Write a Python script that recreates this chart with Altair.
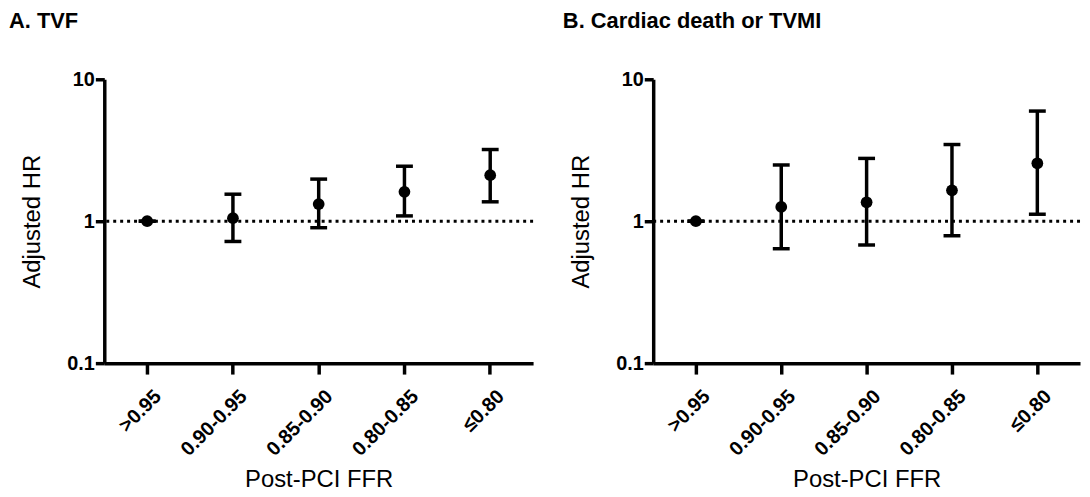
import altair as alt
import pandas as pd

categories = [">0.95", "0.90-0.95", "0.85-0.90", "0.80-0.85", "≤0.80"]

tvf_hr = [1.0, 1.05, 1.32, 1.61, 2.11]
tvf_lo = [1.0, 0.72, 0.90, 1.09, 1.37]
tvf_hi = [1.0, 1.55, 1.98, 2.44, 3.20]

cd_hr = [1.0, 1.26, 1.36, 1.65, 2.56]
cd_lo = [1.0, 0.64, 0.68, 0.79, 1.12]
cd_hi = [1.0, 2.49, 2.77, 3.47, 5.97]

y_ticks = [0.1, 1, 10]
ref_value = [1]

FONT = "Liberation Sans"


def panel(title, hr, lo, hi, width, title_dx):
    df = pd.DataFrame({"cat": categories, "hr": hr, "lo": lo, "hi": hi})
    ref_df = pd.DataFrame({"ref": ref_value})

    x = alt.X(
        "cat:N",
        sort=categories,
        scale=alt.Scale(paddingInner=0, paddingOuter=0),
        axis=alt.Axis(
            title="Post-PCI FFR",
            labelAngle=-45,
            labelOffset=4,
            tickSize=11,
            labelPadding=12,
            titlePadding=8,
        ),
    )

    def y(field):
        return alt.Y(
            field,
            scale=alt.Scale(type="log", domain=[0.1, 10], nice=False),
            axis=alt.Axis(
                values=y_ticks,
                format="~g",
                title="Adjusted HR",
                tickSize=9,
                labelPadding=1,
                titlePadding=22,
            ),
        )

    ref = (
        alt.Chart(ref_df)
        .mark_rule(strokeDash=[3, 4], strokeWidth=3, color="black")
        .encode(y=y("ref:Q"))
    )
    bars = (
        alt.Chart(df)
        .mark_rule(strokeWidth=3.5, color="black")
        .encode(x=x, y=y("lo:Q"), y2="hi:Q")
    )
    cap_lo = (
        alt.Chart(df)
        .mark_tick(thickness=3.5, size=17, color="black", opacity=1)
        .encode(x=x, y=y("lo:Q"))
    )
    cap_hi = (
        alt.Chart(df)
        .mark_tick(thickness=3.5, size=17, color="black", opacity=1)
        .encode(x=x, y=y("hi:Q"))
    )
    pts = (
        alt.Chart(df)
        .mark_point(filled=True, size=140, color="black", opacity=1)
        .encode(x=x, y=y("hr:Q"))
    )
    return alt.layer(ref, bars, cap_lo, cap_hi, pts).properties(
        width=width,
        height=286,
        title=alt.TitleParams(
            title,
            anchor="start",
            frame="group",
            dx=title_dx,
            offset=20,
            baseline="alphabetic",
            fontSize=22,
            fontWeight="bold",
            font=FONT,
            color="black",
        ),
    )


a = panel("A. TVF", tvf_hr, tvf_lo, tvf_hi, 432, -96)
b = panel("B. Cardiac death or TVMI", cd_hr, cd_lo, cd_hi, 430, -91)

chart = (
    alt.hconcat(a, b, spacing=28)
    .properties(
        padding={"left": 1, "top": 0, "right": 0, "bottom": 0},
        background="white",
    )
    .configure_view(stroke=None)
    .configure_axis(
        grid=False,
        domainColor="black",
        domainWidth=3.5,
        tickColor="black",
        tickWidth=3.5,
        labelColor="black",
        titleColor="black",
        labelFont=FONT,
        titleFont=FONT,
        labelFontSize=20,
        labelFontWeight="bold",
        titleFontSize=24,
        titleFontWeight="normal",
    )
)

chart.save("out.html", embed_options={"renderer": "svg", "actions": False})
